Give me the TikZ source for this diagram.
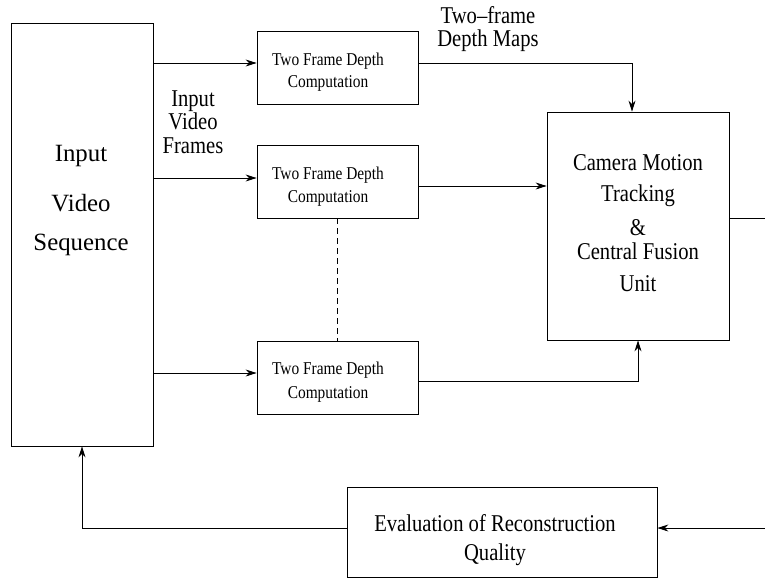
\documentclass[tikz,border=0pt]{standalone}
\usepackage{fontspec}
\setmainfont{Liberation Serif}
\usepackage{graphicx}
\usetikzlibrary{arrows.meta}
% slightly tall lettering
\newcommand{\tallt}[1]{\scalebox{1}[1.17]{#1}}
\begin{document}
\begin{tikzpicture}[x=1pt,y=-1pt,
  blk/.style={draw, line width=0.8pt, inner sep=0pt},
  txt/.style={anchor=base, inner sep=0pt},
  big/.style={font=\fontsize{24.8}{28}\selectfont},
  mid/.style={font=\fontsize{20.6}{24}\selectfont},
  sml/.style={font=\fontsize{15.4}{18}\selectfont},
  conn/.style={line width=0.8pt},
  arr/.style={conn, -{Stealth[length=11pt,width=7pt]}}]
\useasboundingbox (0,0) rectangle (765,578);

% blocks
\node[blk, minimum width=142pt, minimum height=423pt] (inp) at (82,234.5) {};
\node[blk, minimum width=161pt, minimum height=73pt] (tfd1) at (337.5,67.5) {};
\node[blk, minimum width=161pt, minimum height=73pt] (tfd2) at (337.5,181.5) {};
\node[blk, minimum width=161pt, minimum height=73pt] (tfd3) at (337.5,377.5) {};
\node[blk, minimum width=182pt, minimum height=228pt] (cam) at (638,226) {};
\node[blk, minimum width=310pt, minimum height=90pt] (eval) at (502,532) {};

% block texts
\node[txt, big] (inpA) at (81,161.5) {Input};
\node[txt, big] (inpB) at (81,211.5) {Video};
\node[txt, big] (inpC) at (81,250) {Sequence};

\node[txt, sml] (t1a) at (328,65) {\tallt{Two Frame Depth}};
\node[txt, sml] (t1b) at (328,88) {\tallt{Computation}};
\node[txt, sml] (t2a) at (328,179) {\tallt{Two Frame Depth}};
\node[txt, sml] (t2b) at (328,202) {\tallt{Computation}};
\node[txt, sml] (t3a) at (328,374.5) {\tallt{Two Frame Depth}};
\node[txt, sml] (t3b) at (328,398.5) {\tallt{Computation}};

\node[txt, mid] (camA) at (638,170) {\tallt{Camera Motion}};
\node[txt, mid] (camB) at (638,201.5) {\tallt{Tracking}};
\node[txt, mid] (camC) at (638,235) {\tallt{\&}};
\node[txt, mid] (camD) at (638,259) {\tallt{Central Fusion}};
\node[txt, mid] (camE) at (638,291.5) {\tallt{Unit}};

\node[txt, mid] (evA) at (495,531.5) {\tallt{Evaluation of Reconstruction}};
\node[txt, mid] (evB) at (495,560) {\tallt{Quality}};

% connector labels
\node[txt, mid] (lbA) at (488,23.3) {\tallt{Two--frame}};
\node[txt, mid] (lbB) at (488,46.7) {\tallt{Depth Maps}};
\node[txt, mid] (ifA) at (193,106.5) {\tallt{Input}};
\node[txt, mid] (ifB) at (193,129.5) {\tallt{Video}};
\node[txt, mid] (ifC) at (193,153.3) {\tallt{Frames}};

% connection points
\coordinate (in1) at ([yshift=4.5pt]tfd1.west);
\coordinate (in2) at ([yshift=3.5pt]tfd2.west);
\coordinate (in3) at ([yshift=4.5pt]tfd3.west);
\coordinate (o1) at ([yshift=4.5pt]tfd1.east);
\coordinate (o2) at ([yshift=-4.5pt]tfd2.east);
\coordinate (o3) at ([yshift=-3.5pt]tfd3.east);
\coordinate (camTop) at ([xshift=-6pt]cam.north);
\coordinate (camOut) at ([yshift=8pt]cam.east);
\coordinate (evIn) at ([yshift=4pt]eval.east);
\coordinate (evOut) at ([yshift=4pt]eval.west);
\coordinate (edgeA) at (765,218);
\coordinate (edgeB) at (765,528);

% video frames to the depth units
\draw[arr] (inp.east |- in1) -- (in1);
\draw[arr] (inp.east |- in2) -- (in2);
\draw[arr] (inp.east |- in3) -- (in3);

% depth maps to the fusion unit
\draw[arr] (o1) -| (camTop);
\draw[arr] (o2) -- (cam.west |- o2);
\draw[arr] (o3) -| (cam.south);

% elided depth units
\draw[conn, dash pattern=on 6pt off 4pt] (tfd2.south) -- (tfd3.north);

% output and feedback loop
\draw[conn] (camOut) -- (edgeA);
\draw[arr] (edgeB) -- (evIn);
\draw[arr] (evOut) -| (inp.south);
\end{tikzpicture}
\end{document}
